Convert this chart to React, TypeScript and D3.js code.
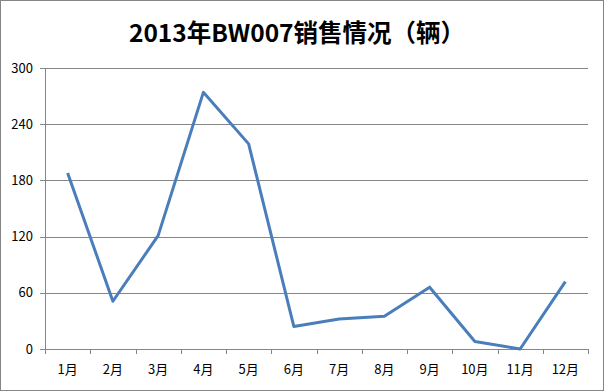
import React, { useEffect, useRef } from "react";
import * as d3 from "d3";

const months = ["1月", "2月", "3月", "4月", "5月", "6月", "7月", "8月", "9月", "10月", "11月", "12月"];
const sales = [188, 51, 121, 274, 219, 24, 32, 35, 66, 8, 0, 72];
const yTicks = [0, 60, 120, 180, 240, 300];
const title = "2013年BW007销售情况（辆）";

const W = 604;
const H = 391;
const margin = { left: 45, right: 16, top: 68, bottom: 42 };
const FONT = "'Noto Sans CJK SC', 'Noto Sans', sans-serif";

export default function App() {
  const ref = useRef<SVGSVGElement>(null);
  useEffect(() => {
    const svg = d3.select(ref.current);
    svg.selectAll("*").remove();
    const x0 = margin.left, x1 = W - margin.right;
    const y0 = H - margin.bottom, y1 = margin.top;
    const x = d3.scaleBand<string>().domain(months).range([x0, x1]);
    const y = d3.scaleLinear().domain([0, 300]).range([y0, y1]);

    svg.append("rect").attr("x", 0.5).attr("y", 0.5).attr("width", W - 1).attr("height", H - 1)
      .attr("fill", "#fff").attr("stroke", "#868686");

    svg.append("text").attr("x", 297).attr("y", 42).attr("text-anchor", "middle")
      .attr("font-family", FONT).attr("font-weight", "bold").attr("font-size", 24.5)
      .attr("fill", "#000").text(title);

    const g = svg.append("g");
    g.selectAll("line.grid").data(yTicks.filter(t => t > 0)).enter().append("line")
      .attr("x1", x0 - 5).attr("x2", x1).attr("y1", d => Math.round(y(d)) + 0.5).attr("y2", d => Math.round(y(d)) + 0.5)
      .attr("stroke", "#868686").attr("stroke-width", 1);
    g.append("line").attr("x1", x0 + 0.5).attr("x2", x0 + 0.5).attr("y1", y1).attr("y2", y0)
      .attr("stroke", "#868686");
    g.append("line").attr("x1", x0 - 5).attr("x2", x1).attr("y1", Math.round(y0) + 0.5).attr("y2", Math.round(y0) + 0.5)
      .attr("stroke", "#868686");
    const bounds = months.map(m => x(m)!).concat([x1]);
    g.selectAll("line.xt").data(bounds).enter().append("line")
      .attr("x1", d => Math.round(d) + 0.5).attr("x2", d => Math.round(d) + 0.5)
      .attr("y1", y0).attr("y2", y0 + 5).attr("stroke", "#868686");
    g.selectAll("text.yl").data(yTicks).enter().append("text")
      .attr("x", 33).attr("y", d => y(d) + 4.5).attr("text-anchor", "end")
      .attr("font-family", FONT).attr("font-size", 13).attr("fill", "#000").text(d => String(d));
    g.selectAll("text.xl").data(months).enter().append("text")
      .attr("x", d => x(d)! + x.bandwidth() / 2).attr("y", 374).attr("text-anchor", "middle")
      .attr("font-family", FONT).attr("font-size", 13).attr("fill", "#000").text(d => d);

    const line = d3.line<number>().x((_, i) => x(months[i])! + x.bandwidth() / 2).y(d => y(d));
    g.append("path").datum(sales).attr("d", line).attr("fill", "none")
      .attr("stroke", "#4a7ebb").attr("stroke-width", 3).attr("stroke-linejoin", "round");
  }, []);
  return (
    <svg ref={ref} width={W} height={H} style={{ position: "absolute", left: 0, top: 0 }} />
  );
}
